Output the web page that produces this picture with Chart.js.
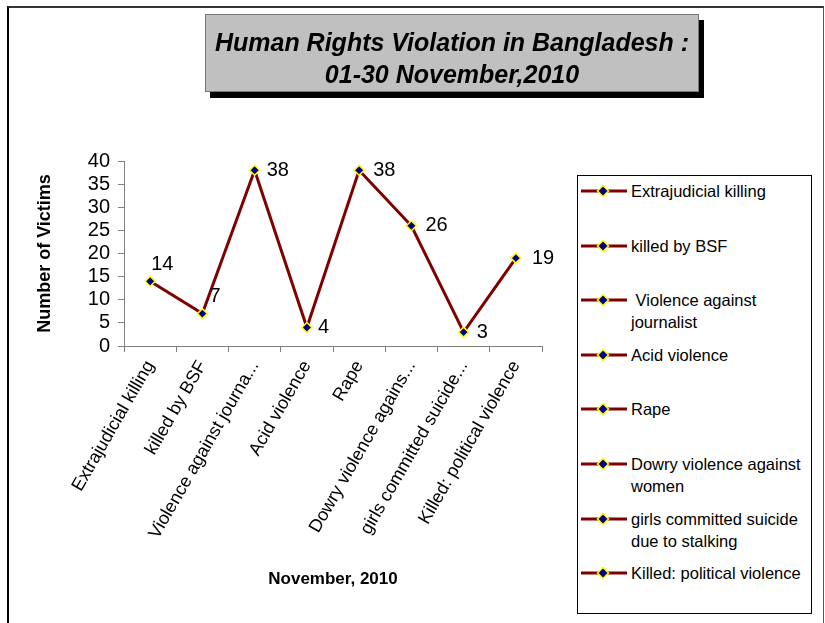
<!DOCTYPE html>
<html>
<head>
<meta charset="utf-8">
<script src="https://cdn.jsdelivr.net/npm/chart.js@4.4.0/dist/chart.umd.min.js"></script>
<style>
  body { margin: 0; background: #fff; font-family: Arial, "Liberation Sans", sans-serif; }
  #wrap { position: relative; width: 825px; height: 623px; overflow: hidden; }
  #frame { position: absolute; left: 7px; top: 6px; width: 814px; height: 640px;
           border-left: 2px solid #000; border-top: 2px solid #333; border-right: 1px solid #555; }
  #myChart { position: absolute; left: 0; top: 0; }
  #titleBox { position: absolute; left: 205px; top: 14px; width: 494px; height: 78px;
              background: #c0c0c0; border: 1px solid #777; box-shadow: 5px 6px 0 #000;
              text-align: center; font: italic bold 25px Arial, "Liberation Sans", sans-serif;
              line-height: 32px; padding-top: 11px; box-sizing: border-box; color: #000; }
  #legend { position: absolute; left: 577px; top: 175px; width: 235px; height: 439px;
            border: 1px solid #000; box-sizing: border-box; background: #fff; }
  .item { position: absolute; left: 2px; }
  .item svg { position: absolute; left: 0; top: 0; }
  .item span { position: absolute; left: 51px; top: 0; width: 180px; font-size: 16.5px;
               line-height: 22px; color: #000; white-space: pre-wrap; }
</style>
</head>
<body>
<div id="wrap">
  <div id="frame"></div>
  <canvas id="myChart" width="825" height="623"></canvas>
  <div id="titleBox">Human Rights Violation in Bangladesh :<br>01-30 November,2010</div>
  <div id="legend"></div>
</div>
<script>
// data
const axisLabels = ['Extrajudicial killing', 'killed by BSF', 'Violence against journa...', 'Acid violence',
  'Rape', 'Dowry violence agains...', 'girls committed suicide...', 'Killed: political violence'];
const legendNames = ['Extrajudicial killing', 'killed by BSF', ' Violence against journalist', 'Acid violence',
  'Rape', 'Dowry violence against women', 'girls committed suicide due to stalking', 'Killed: political violence'];
const victims = [14, 7, 38, 4, 38, 26, 3, 19];
const yTicks = [0, 5, 10, 15, 20, 25, 30, 35, 40];

const FONT = 'Arial, "Liberation Sans", sans-serif';

// value labels next to the points (first two sit above, Excel style)
const labelShift = [[1, -17], [7, -17], [12, 0], [11, 0], [14, 0], [14, 0], [13, 0], [16, 0]];
const valueLabels = {
  id: 'valueLabels',
  afterDatasetsDraw(chart) {
    const ctx = chart.ctx;
    const meta = chart.getDatasetMeta(0);
    ctx.save();
    ctx.font = '20px ' + FONT;
    ctx.fillStyle = '#000';
    ctx.textAlign = 'left';
    ctx.textBaseline = 'middle';
    meta.data.forEach((pt, i) => {
      ctx.fillText(String(victims[i]), pt.x + labelShift[i][0], pt.y + labelShift[i][1]);
    });
    ctx.restore();
  }
};

const ctx = document.getElementById('myChart').getContext('2d');
const myChart = new Chart(ctx, {
  type: 'line',
  data: {
    labels: axisLabels,
    datasets: [{
      label: 'Number of Victims',
      data: victims,
      borderColor: '#800000',
      borderWidth: 3,
      pointStyle: 'rectRot',
      pointRadius: 5,
      pointBackgroundColor: '#000080',
      pointBorderColor: '#ffff00',
      pointBorderWidth: 1.5,
      tension: 0
    }]
  },
  options: {
    responsive: false,
    animation: false,
    layout: { padding: { left: 26, right: 283, top: 161, bottom: 30 } },
    plugins: { legend: { display: false }, tooltip: { enabled: false } },
    scales: {
      x: {
        offset: true,
        afterFit: function (scale) { scale.height = 623 - 30 - 346; },
        grid: { drawOnChartArea: false, offset: true, tickLength: 6, color: '#808080' },
        border: { color: '#808080' },
        ticks: { autoSkip: false, minRotation: 60, maxRotation: 60, color: '#000',
                 font: { family: FONT, size: 18 }, padding: 5 },
        title: { display: true, text: 'November, 2010', color: '#000',
                 font: { family: FONT, size: 17, weight: 'bold' }, padding: { top: 0, bottom: 3 } }
      },
      y: {
        min: 0,
        max: 40,
        afterFit: function (scale) { scale.width = 124 - 26; },
        afterBuildTicks: function (scale) { scale.ticks = yTicks.map(v => ({ value: v })); },
        grid: { drawOnChartArea: false, tickLength: 6, color: '#808080' },
        border: { color: '#808080' },
        ticks: { autoSkip: false, color: '#000', font: { family: FONT, size: 20 }, padding: 8 },
        title: { display: true, text: 'Number of Victims', color: '#000',
                 font: { family: FONT, size: 18, weight: 'bold' }, padding: { top: 8, bottom: 0 } }
      }
    }
  },
  plugins: [valueLabels]
});

// legend built beside the chart
const legendBox = document.getElementById('legend');
legendNames.forEach(function (name, i) {
  const item = document.createElement('div');
  item.className = 'item';
  item.style.top = Math.round(4 + i * 54.6) + 'px';
  item.innerHTML = '<svg width="48" height="22"><line x1="1" y1="11" x2="47" y2="11" stroke="#800000" stroke-width="3"/>' +
    '<polygon points="23,5.5 28.5,11 23,16.5 17.5,11" fill="#000080" stroke="#ffff00" stroke-width="1.5"/></svg>';
  const span = document.createElement('span');
  span.textContent = name;
  item.appendChild(span);
  legendBox.appendChild(item);
});
</script>
</body>
</html>
